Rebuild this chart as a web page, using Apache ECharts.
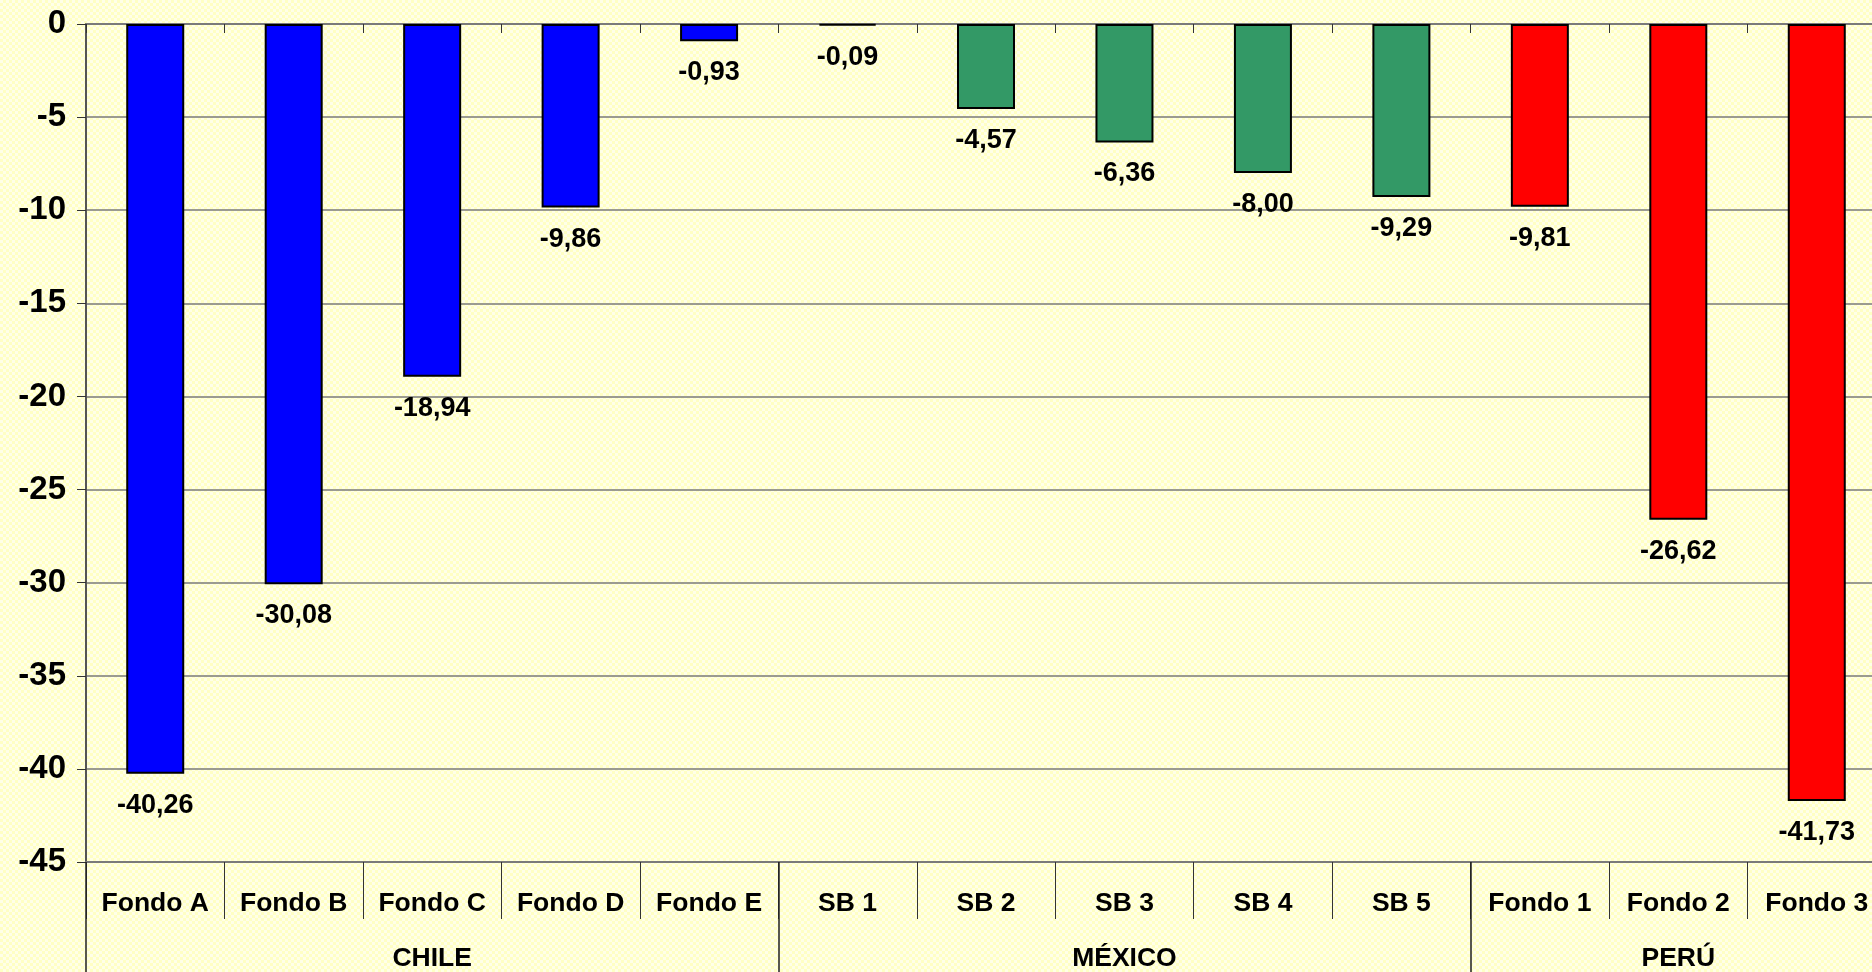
<!DOCTYPE html>
<html>
<head>
<meta charset="utf-8">
<script src="https://cdn.jsdelivr.net/npm/echarts@6/dist/echarts.min.js"></script>
<style>
  html, body {
    margin: 0;
    padding: 0;
    width: 1872px;
    height: 972px;
    overflow: hidden;
    background-color: #ffffd6;
    background-image: repeating-conic-gradient(#ffffc4 0 25%, #ffffe8 0 50%);
    background-size: 6px 6px;
  }
  #chart {
    width: 1886px;
    height: 972px;
  }
</style>
</head>
<body>
<div id="chart"></div>
<script>
// data
const chileFunds = ['Fondo A', 'Fondo B', 'Fondo C', 'Fondo D', 'Fondo E']
const chileValues = [-40.26, -30.08, -18.94, -9.86, -0.93]
const mexicoFunds = ['SB 1', 'SB 2', 'SB 3', 'SB 4', 'SB 5']
const mexicoValues = [-0.09, -4.57, -6.36, -8.00, -9.29]
const peruFunds = ['Fondo 1', 'Fondo 2', 'Fondo 3']
const peruValues = [-9.81, -26.62, -41.73]
const countries = ['CHILE', 'MÉXICO', 'PERÚ']
const yTicks = [0, -5, -10, -15, -20, -25, -30, -35, -40, -45]

const groupColors = ['#0000ff', '#339966', '#ff0000']
const fontFamily = "'Liberation Sans', Arial, sans-serif"

const groups = [
  { funds: chileFunds, values: chileValues },
  { funds: mexicoFunds, values: mexicoValues },
  { funds: peruFunds, values: peruValues }
]

const categories = []
const barData = []
const countryRow = []
const groupStarts = []
groups.forEach((g, gi) => {
  groupStarts.push(categories.length)
  const mid = Math.floor((g.funds.length - 1) / 2)
  g.funds.forEach((f, i) => {
    categories.push(f)
    countryRow.push(i === mid ? countries[gi] : '')
    barData.push({ value: g.values[i], itemStyle: { color: groupColors[gi] } })
  })
})

const chart = echarts.init(document.getElementById('chart'), null, { renderer: 'canvas' })

const fmt = v => v.toFixed(2).replace('.', ',')

const option = {
  backgroundColor: 'transparent',
  animation: false,
  textStyle: { fontFamily },
  // the plot runs a little past the right edge of the window, as in the original
  grid: { left: 86, right: 0, top: 24, bottom: 109, containLabel: false },
  xAxis: [
    {
      type: 'category',
      data: categories,
      position: 'bottom',
      axisLine: { onZero: false, lineStyle: { color: '#7a7a7a', width: 2 } },
      axisTick: { show: true, interval: 0, length: 57, lineStyle: { color: '#333', width: 1 } },
      axisLabel: {
        interval: 0,
        margin: 28,
        color: '#000',
        fontSize: 26.5,
        fontWeight: 'bold',
        fontFamily
      },
      splitLine: { show: false }
    },
    {
      type: 'category',
      data: countryRow,
      position: 'bottom',
      axisLine: { show: false, onZero: false },
      axisTick: {
        show: true,
        interval: (i) => groupStarts.includes(i),
        length: 112,
        lineStyle: { color: '#222', width: 1.5 }
      },
      axisLabel: {
        interval: 0,
        margin: 83,
        color: '#000',
        fontSize: 26.5,
        fontWeight: 'bold',
        fontFamily
      }
    },
    {
      type: 'category',
      data: categories,
      position: 'top',
      axisLine: { show: true, lineStyle: { color: '#7a7a7a', width: 2 } },
      axisTick: { show: true, inside: true, interval: 0, length: 9, lineStyle: { color: '#333', width: 1 } },
      axisLabel: { show: false }
    }
  ],
  yAxis: {
    type: 'value',
    min: yTicks[yTicks.length - 1],
    max: yTicks[0],
    interval: 5,
    axisLine: { show: true, lineStyle: { color: '#555', width: 2 } },
    axisTick: { show: true, length: 9, lineStyle: { color: '#333', width: 1 } },
    axisLabel: {
      color: '#000',
      fontSize: 33,
      fontWeight: 'bold',
      margin: 20,
      fontFamily
    },
    splitLine: { show: true, lineStyle: { color: '#7a7a7a', width: 1.5 } }
  },
  series: [
    {
      type: 'bar',
      xAxisIndex: 0,
      data: barData,
      barWidth: 58,
      itemStyle: { borderColor: '#000', borderWidth: 2 },
      label: {
        show: true,
        position: 'bottom',
        distance: 18,
        color: '#000',
        fontSize: 27,
        fontWeight: 'bold',
        fontFamily,
        formatter: ({ value }) => fmt(value)
      }
    }
  ]
}

chart.setOption(option)
</script>
</body>
</html>
